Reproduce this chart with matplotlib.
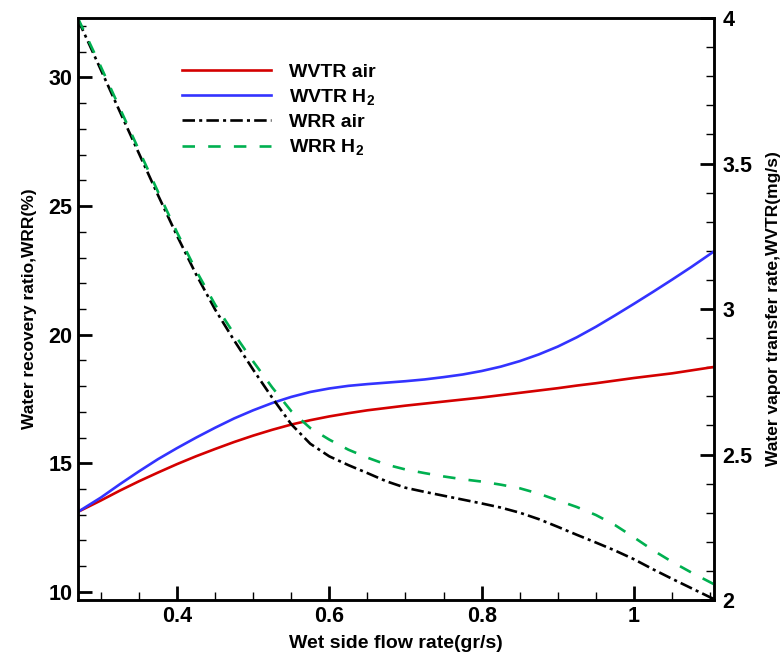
import matplotlib
matplotlib.use('Agg')
import matplotlib.pyplot as plt
from matplotlib.ticker import MultipleLocator, FuncFormatter

plt.rcParams['font.family'] = ['Liberation Sans', 'DejaVu Sans']
plt.rcParams['mathtext.fontset'] = 'custom'
plt.rcParams['mathtext.rm'] = 'Liberation Sans:bold'
plt.rcParams['mathtext.default'] = 'rm'
plt.rcParams['lines.scale_dashes'] = False

# wet side flow rate (gr/s)
flow = [0.27, 0.30, 0.325, 0.35, 0.375, 0.40, 0.425, 0.45, 0.475, 0.50,
        0.525, 0.55, 0.575, 0.60, 0.625, 0.65, 0.675, 0.70, 0.725, 0.75,
        0.775, 0.80, 0.825, 0.85, 0.875, 0.90, 0.925, 0.95, 0.975, 1.00,
        1.025, 1.05, 1.075, 1.105]

# water vapor transfer rate (mg/s), right axis
wvtr_air = [2.303, 2.342, 2.376, 2.408, 2.438, 2.467, 2.494, 2.519, 2.543, 2.565,
            2.585, 2.603, 2.618, 2.631, 2.642, 2.652, 2.660, 2.668, 2.675, 2.682,
            2.689, 2.696, 2.704, 2.712, 2.720, 2.728, 2.737, 2.745, 2.754, 2.763,
            2.771, 2.779, 2.789, 2.801]
wvtr_h2 = [2.303, 2.352, 2.398, 2.442, 2.484, 2.522, 2.558, 2.592, 2.624, 2.652,
           2.677, 2.698, 2.715, 2.727, 2.736, 2.742, 2.747, 2.752, 2.758, 2.766,
           2.775, 2.787, 2.802, 2.821, 2.844, 2.871, 2.903, 2.939, 2.978, 3.018,
           3.059, 3.101, 3.144, 3.198]

# water recovery ratio (%), left axis
wrr_air = [32.25, 30.3, 28.67, 27.05, 25.43, 23.85, 22.35, 20.98, 19.78, 18.64,
           17.55, 16.52, 15.76, 15.27, 14.93, 14.62, 14.3, 14.05, 13.89, 13.74,
           13.59, 13.44, 13.28, 13.08, 12.83, 12.53, 12.22, 11.92, 11.61, 11.27,
           10.88, 10.51, 10.15, 9.72]
wrr_h2 = [32.3, 30.42, 28.8, 27.18, 25.56, 23.98, 22.5, 21.17, 20.03, 18.96,
          17.95, 17.03, 16.37, 15.92, 15.53, 15.22, 14.95, 14.76, 14.62, 14.49,
          14.38, 14.29, 14.17, 14.03, 13.82, 13.56, 13.3, 12.99, 12.6, 12.12,
          11.62, 11.17, 10.76, 10.3]

narrow = ['Liberation Sans Narrow', 'Liberation Sans']

fig = plt.figure(figsize=(7.82, 6.58), dpi=100)
ax = fig.add_axes([0.0997, 0.0881, 0.8133, 0.8845])
ax2 = ax.twinx()

l1, = ax2.plot(flow, wvtr_air, color='#d40000', lw=1.9, label='WVTR air')
l2, = ax2.plot(flow, wvtr_h2, color='#3333ff', lw=1.9, label='WVTR H$_2$')
l3, = ax.plot(flow, wrr_air, color='black', lw=1.9, dashes=(9, 3, 2.2, 3), label='WRR air')
l4, = ax.plot(flow, wrr_h2, color='#00b050', lw=1.9, dashes=(9, 9.5), label='WRR H$_2$')
ax.set_zorder(ax2.get_zorder() + 1)
ax.patch.set_visible(False)

ax.set_xlim(0.27, 1.105)
ax.set_ylim(9.685, 32.31)
ax2.set_ylim(2, 4)

ax.xaxis.set_major_locator(MultipleLocator(0.2))
ax.xaxis.set_minor_locator(MultipleLocator(0.05))
ax.yaxis.set_major_locator(MultipleLocator(5))
ax.yaxis.set_minor_locator(MultipleLocator(1))
ax2.yaxis.set_major_locator(MultipleLocator(0.5))
ax2.yaxis.set_minor_locator(MultipleLocator(0.1))
fmt = FuncFormatter(lambda v, p: '{:g}'.format(round(v, 3)))
ax.xaxis.set_major_formatter(fmt)
ax2.yaxis.set_major_formatter(fmt)

for a in (ax, ax2):
    for s in a.spines.values():
        s.set_linewidth(1.8)
ax.tick_params(which='major', direction='in', length=10, width=2, pad=4)
ax.tick_params(which='minor', direction='in', length=6, width=1)
ax.tick_params(top=False, right=False, which='both')
ax2.tick_params(which='major', direction='in', length=10, width=2, pad=6)
ax2.tick_params(which='minor', direction='in', length=6, width=1)

for t in ax.get_yticklabels() + ax2.get_yticklabels():
    t.set_fontsize(15.5)
    t.set_fontweight('bold')
for t in ax.get_xticklabels():
    t.set_fontsize(15.5)
    t.set_fontweight('bold')
    t.set_family(narrow)

ax.set_xlabel('Wet side flow rate(gr/s)', fontsize=14, fontweight='bold', family=narrow, labelpad=6)
ax.set_ylabel('Water recovery ratio,WRR(%)', fontsize=12.5, fontweight='bold', labelpad=8)
ax2.set_ylabel('Water vapor transfer rate,WVTR(mg/s)', fontsize=12.5, fontweight='bold', labelpad=10)

ax.legend(handles=[l1, l2, l3, l4], loc='upper left', bbox_to_anchor=(0.163, 0.922),
          frameon=False, borderpad=0, borderaxespad=0, handlelength=4.6,
          handletextpad=0.9, labelspacing=0.32, prop={'size': 14, 'weight': 'bold'})

fig.savefig('out.png', dpi=100)
